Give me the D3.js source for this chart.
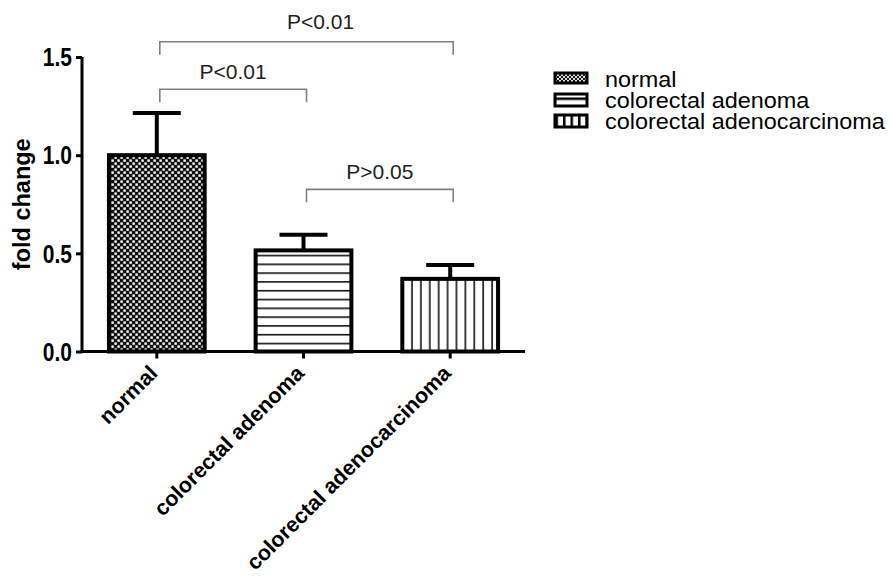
<!DOCTYPE html>
<html>
<head>
<meta charset="utf-8">
<script src="https://cdn.jsdelivr.net/npm/d3@7"></script>
<style>
  html, body { margin: 0; padding: 0; background: #fff; }
  svg { display: block; }
  text { font-family: "Liberation Sans", Arial, Helvetica, sans-serif; }
</style>
</head>
<body>
<svg id="chart" width="893" height="579"></svg>
<script>
// ---- data ----
const categories = ["normal", "colorectal adenoma", "colorectal adenocarcinoma"];
const foldChange = [1.0, 0.515, 0.37];
const errorUpper = [0.215, 0.08, 0.07];
const patterns = ["checker", "hstripe", "vstripe"];
const yTicks = [0.0, 0.5, 1.0, 1.5];
const yLabel = "fold change";
const compFrom = [0, 0, 1];
const compTo = [2, 1, 2];
const compLevel = [1.578, 1.336, 0.826];
const compLabel = ["P<0.01", "P<0.01", "P>0.05"];

// ---- layout ----
const svg = d3.select("#chart");
const axisX0 = 82, axisX1 = 525;
const yTop = 57, yBottom = 351.5;

const x = d3.scaleBand().domain(categories).range([axisX0, axisX1])
  .paddingInner(0.32).paddingOuter(0.17);
const y = d3.scaleLinear().domain([0, 1.5]).range([yBottom, yTop]);

// patterns
const defs = svg.append("defs");
const pc = defs.append("pattern").attr("id", "checker").attr("patternUnits", "userSpaceOnUse")
  .attr("width", 6).attr("height", 6);
pc.append("rect").attr("width", 6).attr("height", 6).attr("fill", "#111");
pc.append("rect").attr("x", 0.4).attr("y", 0.4).attr("width", 2.4).attr("height", 2.4).attr("fill", "#fff");
pc.append("rect").attr("x", 3.4).attr("y", 3.4).attr("width", 2.4).attr("height", 2.4).attr("fill", "#fff");

const ph = defs.append("pattern").attr("id", "hstripe").attr("patternUnits", "userSpaceOnUse")
  .attr("width", 9).attr("height", 8.8).attr("y", yBottom);
ph.append("rect").attr("width", 9).attr("height", 8.8).attr("fill", "#fff");
ph.append("line").attr("x1", 0).attr("x2", 9).attr("y1", 0.8).attr("y2", 0.8)
  .attr("stroke", "#111").attr("stroke-width", 1.6);

const pv = defs.append("pattern").attr("id", "vstripe").attr("patternUnits", "userSpaceOnUse")
  .attr("width", 8.9).attr("height", 9).attr("x", 405);
pv.append("rect").attr("width", 8.9).attr("height", 9).attr("fill", "#fff");
pv.append("line").attr("y1", 0).attr("y2", 9).attr("x1", 7).attr("x2", 7)
  .attr("stroke", "#111").attr("stroke-width", 1.6);

// legend patterns
const lc = defs.append("pattern").attr("id", "checkerL").attr("patternUnits", "userSpaceOnUse")
  .attr("width", 4).attr("height", 4);
lc.append("rect").attr("width", 4).attr("height", 4).attr("fill", "#111");
lc.append("rect").attr("width", 2).attr("height", 2).attr("fill", "#ddd");
lc.append("rect").attr("x", 2).attr("y", 2).attr("width", 2).attr("height", 2).attr("fill", "#ddd");
const lh = defs.append("pattern").attr("id", "hstripeL").attr("patternUnits", "userSpaceOnUse")
  .attr("width", 10).attr("height", 20).attr("y", 97.5);
lh.append("rect").attr("width", 10).attr("height", 20).attr("fill", "#fff");
lh.append("rect").attr("y", 0).attr("width", 10).attr("height", 2.5).attr("fill", "#000");
const lv = defs.append("pattern").attr("id", "vstripeL").attr("patternUnits", "userSpaceOnUse")
  .attr("width", 7.5).attr("height", 20).attr("x", 555 + 0.5);
lv.append("rect").attr("width", 7.5).attr("height", 20).attr("fill", "#fff");
lv.append("rect").attr("x", 0).attr("width", 2.5).attr("height", 20).attr("fill", "#000");

// bars
const data = categories.map((c, i) => ({ c, v: foldChange[i], e: errorUpper[i], p: patterns[i] }));
const sw = 4;
const g = svg.append("g");

// error bars
data.forEach(d => {
  const cx = x(d.c) + x.bandwidth() / 2;
  g.append("line").attr("x1", cx).attr("x2", cx).attr("y1", y(d.v)).attr("y2", y(d.v + d.e))
    .attr("stroke", "#000").attr("stroke-width", 4);
  g.append("line").attr("x1", cx - 24).attr("x2", cx + 24).attr("y1", y(d.v + d.e)).attr("y2", y(d.v + d.e))
    .attr("stroke", "#000").attr("stroke-width", 4);
});

g.selectAll("rect.bar").data(data).join("rect").attr("class", "bar")
  .attr("x", d => x(d.c) + sw / 2)
  .attr("y", d => y(d.v))
  .attr("width", x.bandwidth() - sw)
  .attr("height", d => y(0) - y(d.v))
  .attr("fill", d => `url(#${d.p})`)
  .attr("stroke", "#000").attr("stroke-width", sw);

// y axis
const yAxis = d3.axisLeft(y).tickValues(yTicks).tickFormat(d3.format(".1f")).tickSize(6).tickPadding(4);
const ya = svg.append("g").attr("transform", `translate(${axisX0},0)`).call(yAxis);
ya.select(".domain").attr("d", `M0,${yTop}V${yBottom}`).attr("stroke", "#000").attr("stroke-width", 3);
ya.selectAll(".tick line").attr("stroke", "#000").attr("stroke-width", 3);
ya.selectAll(".tick text")
  .attr("font-size", 21).attr("font-weight", "bold").attr("fill", "#000")
  .attr("font-family", "Liberation Sans, Arial, sans-serif")
  .attr("dy", null).attr("y", 0)
  .attr("transform", "translate(-10,0) scale(1,1.2)")
  .attr("x", 0)
  .attr("dominant-baseline", "central");

// x axis
const xAxis = d3.axisBottom(x).tickSize(7).tickFormat("");
const xa = svg.append("g").attr("transform", `translate(0,${yBottom})`).call(xAxis);
xa.select(".domain").attr("d", `M${axisX0 - 1.5},0H${axisX1}`).attr("stroke", "#000").attr("stroke-width", 3);
xa.selectAll(".tick line").attr("stroke", "#000").attr("stroke-width", 3);

// x labels rotated
svg.append("g").selectAll("text").data(categories).join("text")
  .attr("transform", d => `translate(${x(d) + x.bandwidth() / 2 + 2},${yBottom + 23}) rotate(-45)`)
  .attr("text-anchor", "end")
  .attr("font-size", 21.5).attr("font-weight", "bold").attr("fill", "#000")
  .text(d => d);

// y label
svg.append("text").attr("transform", `translate(30,${(yTop + yBottom) / 2}) rotate(-90)`)
  .attr("text-anchor", "middle").attr("font-size", 23.5).attr("font-weight", "bold").attr("fill", "#000")
  .text(yLabel);

// significance brackets
const cxOf = i => x(categories[i]) + x.bandwidth() / 2;
compFrom.forEach((f, i) => {
  const x1 = cxOf(f) + 3, x2 = cxOf(compTo[i]) + 3;
  const yy = y(compLevel[i]);
  svg.append("path").attr("d", `M${x1},${yy + 13}V${yy}H${x2}V${yy + 13}`)
    .attr("fill", "none").attr("stroke", "#808080").attr("stroke-width", 1.6);
  svg.append("text").attr("x", (x1 + x2) / 2 + (i === 0 ? 14 : 0)).attr("y", yy - (i === 0 ? 13 : 10))
    .attr("text-anchor", "middle").attr("font-size", 21).attr("fill", "#222").text(compLabel[i]);
});

// legend
const lg = svg.append("g").attr("transform", "translate(555,0)");
categories.forEach((c, i) => {
  const yy = 78 + i * 21;
  lg.append("rect").attr("x", 0).attr("y", yy - 5).attr("width", 32).attr("height", 10 + (i > 0 ? 2 : 0))
    .attr("fill", `url(#${patterns[i]}L)`).attr("stroke", "#000").attr("stroke-width", 3);
  lg.append("text").attr("transform", `translate(50,${yy + 8.5}) scale(1.09,1)`)
    .attr("font-size", 21.5).attr("fill", "#000").text(c);
});
</script>
</body>
</html>
